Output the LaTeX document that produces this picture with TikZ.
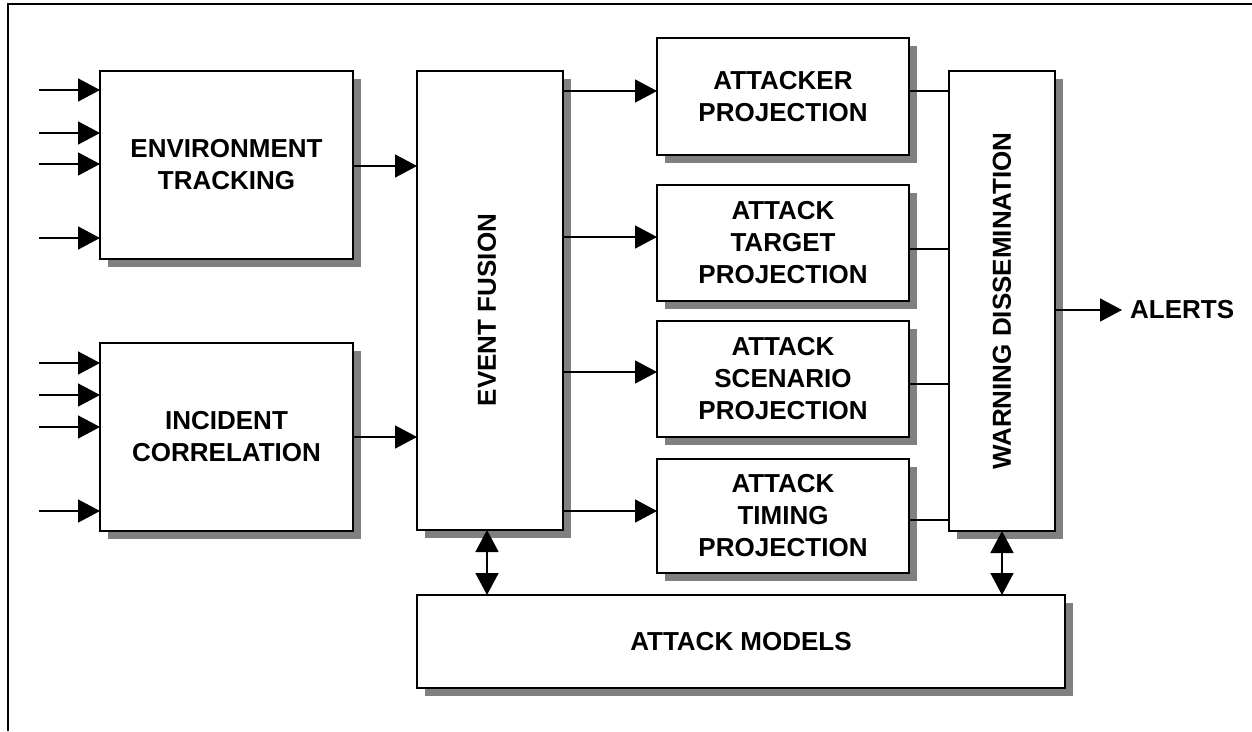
\documentclass[tikz,border=0pt]{standalone}
\usepackage{fontspec}
\setmainfont{Liberation Sans}
\usetikzlibrary{arrows.meta,shadows}
\begin{document}
\begin{tikzpicture}[x=1pt,y=-1pt,
  txt/.style={font=\fontsize{26}{32}\selectfont\bfseries},
  box/.style={draw, line width=1.6pt, fill=white, inner sep=0pt, outer sep=0pt, align=center, txt,
    drop shadow={shadow xshift=8pt, shadow yshift=-8pt, fill=black!50, opacity=1}},
  lbl/.style={txt, inner sep=0pt},
  tip/.tip={Triangle[length=22pt,width=23pt]},
  arr/.style={line width=1.6pt, -tip},
  darr/.style={line width=1.6pt, tip-tip},
  conn/.style={line width=1.6pt}]
\useasboundingbox (0,0) rectangle (1252,731);
% frame
\draw[line width=1.5pt] (8,731) -- (8,4) -- (1252,4);
% boxes
\node[box, minimum width=253pt, minimum height=188pt] (ET) at (226.5,165) {ENVIRONMENT\\TRACKING};
\node[box, minimum width=253pt, minimum height=188pt] (IC) at (226.5,437) {INCIDENT\\CORRELATION};
\node[box, minimum width=146pt, minimum height=459pt] (EF) at (490,300.5) {};
\node[lbl, rotate=90] (EFt) at (487,310) {EVENT FUSION};
\node[box, minimum width=252pt, minimum height=117pt] (AP) at (783,96.5) {ATTACKER\\PROJECTION};
\node[box, minimum width=252pt, minimum height=116pt] (AT) at (783,243) {ATTACK\\TARGET\\PROJECTION};
\node[box, minimum width=252pt, minimum height=116pt] (AS) at (783,379) {ATTACK\\SCENARIO\\PROJECTION};
\node[box, minimum width=252pt, minimum height=114pt] (ATi) at (783,516) {ATTACK\\TIMING\\PROJECTION};
\node[box, minimum width=106pt, minimum height=460pt] (WD) at (1002,301) {};
\node[lbl, rotate=90] (WDt) at (1002,301) {WARNING DISSEMINATION};
\node[box, minimum width=648pt, minimum height=93pt] (AM) at (741,641.5) {ATTACK MODELS};
\node[lbl, anchor=west] (AL) at (1130,310) {ALERTS};
% inputs
\foreach \y [count=\i] in {90,133,164,238} {
  \coordinate (eti\i) at (39,\y);
  \draw[arr] (eti\i) -- (eti\i -| ET.west);
}
\foreach \y [count=\i] in {363,395,427,511} {
  \coordinate (ici\i) at (39,\y);
  \draw[arr] (ici\i) -- (ici\i -| IC.west);
}
% to event fusion
\coordinate (eto) at (353,166);
\draw[arr] (eto) -- (eto -| EF.west);
\draw[arr] (IC.east) -- (IC.east -| EF.west);
% event fusion to projections
\coordinate (api) at (657,91);
\coordinate (ati) at (657,237);
\coordinate (asi) at (657,372);
\coordinate (tii) at (657,511);
\draw[arr] (EF.east |- api) -- (api);
\draw[arr] (EF.east |- ati) -- (ati);
\draw[arr] (EF.east |- asi) -- (asi);
\draw[arr] (EF.east |- tii) -- (tii);
% projections to warning dissemination
\coordinate (apo) at (909,91);
\coordinate (ato) at (909,249);
\coordinate (aso) at (909,384);
\coordinate (tio) at (909,520);
\draw[conn] (apo) -- (apo -| WD.west);
\draw[conn] (ato) -- (ato -| WD.west);
\draw[conn] (aso) -- (aso -| WD.west);
\draw[conn] (tio) -- (tio -| WD.west);
% alerts
\coordinate (wdo) at (1055,310);
\draw[arr] (wdo) -- ([xshift=-8pt]AL.west);
% attack models
\coordinate (efb) at (487,530);
\draw[darr] (efb) -- (efb |- AM.north);
\draw[darr] (WD.south) -- (WD.south |- AM.north);
\end{tikzpicture}
\end{document}
